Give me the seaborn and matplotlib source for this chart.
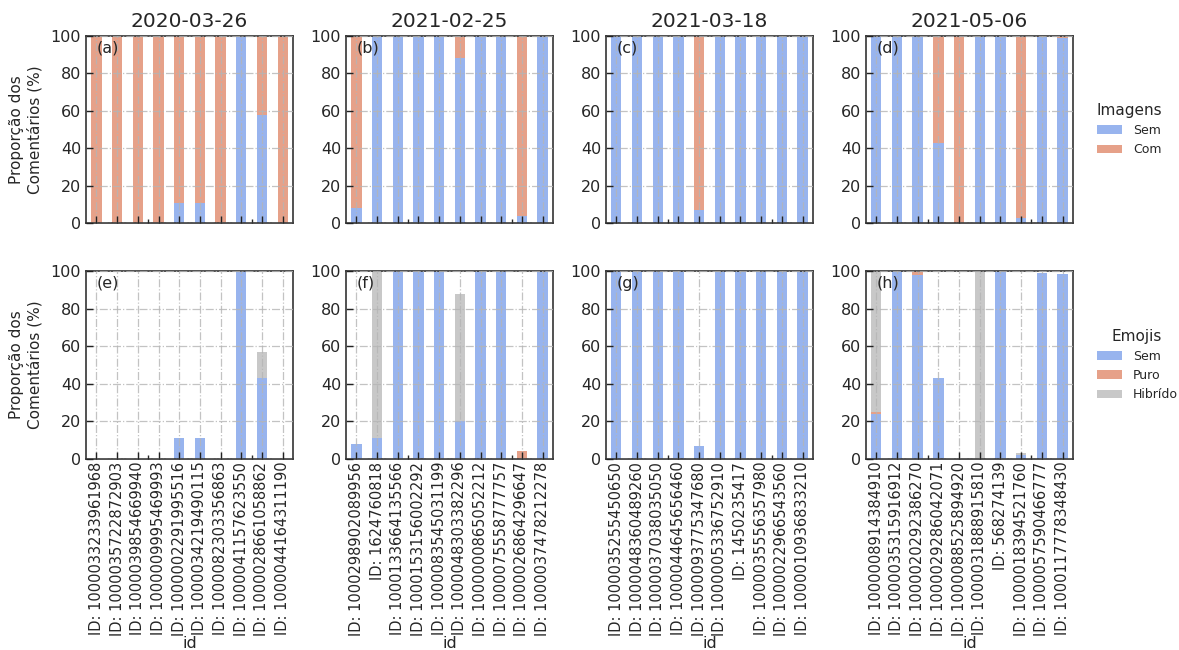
import pandas as pd
import matplotlib
matplotlib.use("Agg")
import matplotlib.pyplot as plt
import seaborn as sns

# datas das coletas
datas = ['2020-03-26', '2021-02-25', '2021-03-18', '2021-05-06']

ids_2020_03_26 = ['1000033233961968', '1000035722872903', '1000039854669940', '1000009995469993',
                  '1000002291995516', '1000034219490115', '1000082303356863', '1000041157623550',
                  '1000028661058862', '1000044164311190']
ids_2021_02_25 = ['1000298902089956', '1624760818', '1000133664135566', '1000153156002292',
                  '1000083545031199', '1000048303382296', '1000000865052212', '1000075558777757',
                  '1000026864296647', '1000037478212278']
ids_2021_03_18 = ['1000035255450650', '1000048360489260', '1000037038035050', '1000044645656460',
                  '1000093775347680', '1000005336752910', '1450235417', '1000035556357980',
                  '1000022966543560', '1000010936833210']
ids_2021_05_06 = ['1000008914384910', '1000035315916912', '1000020292386270', '1000029286042071',
                  '1000088525894920', '1000031888915810', '568274139', '1000018394521760',
                  '1000057590466777', '1000117778348430']

# Imagens: % de comentarios sem imagem (o resto = com imagem)
img_sem_a = [0, 0, 0, 0, 11, 11, 0, 100, 58, 0]
img_sem_b = [8, 100, 100, 100, 100, 88, 100, 100, 4, 100]
img_sem_c = [100, 100, 100, 100, 7, 100, 100, 100, 100, 100]
img_sem_d = [100, 100, 100, 43, 0, 100, 100, 3, 99.5, 98.8]

# Emojis: sem / puro / hibrido
emo_sem_e = [0, 0, 0, 0, 11, 11, 0, 100, 43, 0]
emo_puro_e = [0, 0, 0, 0, 0, 0, 0, 0, 0, 0]
emo_hib_e = [0, 0, 0, 0, 0, 0, 0, 0, 14, 0]

emo_sem_f = [8, 11, 100, 100, 100, 20, 100, 100, 0, 100]
emo_puro_f = [0, 0, 0, 0, 0, 0, 0, 0, 4, 0]
emo_hib_f = [0, 89, 0, 0, 0, 68, 0, 0, 0, 0]

emo_sem_g = [100, 100, 100, 100, 7, 100, 100, 100, 100, 100]
emo_puro_g = [0, 0, 0, 0, 0, 0, 0, 0, 0, 0]
emo_hib_g = [0, 0, 0, 0, 0, 0, 0, 0, 0, 0]

emo_sem_h = [24, 100, 98, 43, 0, 0, 100, 2, 99, 98.8]
emo_puro_h = [1, 0, 2, 0, 0, 0, 0, 0, 0, 0]
emo_hib_h = [75, 0, 0, 0, 0, 100, 0, 1, 0, 0]

lista_ids = [ids_2020_03_26, ids_2021_02_25, ids_2021_03_18, ids_2021_05_06]
lista_img = [img_sem_a, img_sem_b, img_sem_c, img_sem_d]
lista_emo = [(emo_sem_e, emo_puro_e, emo_hib_e), (emo_sem_f, emo_puro_f, emo_hib_f),
             (emo_sem_g, emo_puro_g, emo_hib_g), (emo_sem_h, emo_puro_h, emo_hib_h)]
letras = ['(a)', '(b)', '(c)', '(d)', '(e)', '(f)', '(g)', '(h)']

cor_sem = '#98b4ee'
cor_com = '#e6a189'
cor_hib = '#c8c8c8'

sns.set_theme(style="white")
plt.rcParams['font.family'] = ['DejaVu Sans']

fig, axes = plt.subplots(2, 4, figsize=(11.79, 6.5), dpi=100)
fig.subplots_adjust(left=0.073, right=0.910, top=0.945, bottom=0.294, wspace=0.256, hspace=0.255)

barra = dict(width=0.5, saturation=1, linewidth=0, edgecolor='none')


def estilo(ax, letra):
    ax.set_ylim(0, 100)
    ax.set_xlim(-0.5, 9.5)
    ax.set_yticks([0, 20, 40, 60, 80, 100])
    ax.grid(True, linestyle='-.', color='#b5b5b5', linewidth=0.9, alpha=0.8)
    ax.set_axisbelow(False)
    ax.tick_params(axis='both', direction='in', length=5, width=1, labelsize=11.5,
                   color='#222222', bottom=True, left=True)
    ax.set_xticks([2.5, 7.5], minor=True)
    ax.tick_params(axis='x', which='minor', direction='in', length=3, width=1, bottom=True)
    for sp in ax.spines.values():
        sp.set_color('#333333')
        sp.set_linewidth(1.2)
    ax.text(0.05, 0.935, letra, transform=ax.transAxes, fontsize=11.5, va='center', ha='left')


for j in range(4):
    rotulos = ['ID: ' + i for i in lista_ids[j]]

    # linha de cima: imagens
    ax = axes[0, j]
    df = pd.DataFrame({'id': rotulos, 'Sem': lista_img[j]})
    df['Com'] = 100 - df['Sem']
    df['total'] = df['Sem'] + df['Com']
    sns.barplot(data=df, x='id', y='total', order=rotulos, color=cor_com, ax=ax, label='Com', **barra)
    sns.barplot(data=df, x='id', y='Sem', order=rotulos, color=cor_sem, ax=ax, label='Sem', **barra)
    estilo(ax, letras[j])
    ax.set_title(datas[j], fontsize=14.5)
    ax.set_xlabel('')
    ax.set_ylabel('')
    ax.set_xticks(range(len(rotulos)))
    ax.set_xticklabels([])

    # linha de baixo: emojis
    ax = axes[1, j]
    sem, puro, hib = lista_emo[j]
    df = pd.DataFrame({'id': rotulos, 'Sem': sem, 'Puro': puro, 'Hib': hib})
    df['t2'] = df['Sem'] + df['Puro']
    df['t3'] = df['t2'] + df['Hib']
    sns.barplot(data=df, x='id', y='t3', order=rotulos, color=cor_hib, ax=ax, label='Hibrído', **barra)
    sns.barplot(data=df, x='id', y='t2', order=rotulos, color=cor_com, ax=ax, label='Puro', **barra)
    sns.barplot(data=df, x='id', y='Sem', order=rotulos, color=cor_sem, ax=ax, label='Sem', **barra)
    estilo(ax, letras[j + 4])
    ax.set_ylabel('')
    ax.set_xlabel('id', fontsize=11.5, labelpad=0)
    ax.set_xticks(range(len(rotulos)))
    ax.set_xticklabels(rotulos, rotation=90, fontsize=10.5)
    ax.tick_params(axis='x', pad=2)

for i in range(2):
    axes[i, 0].set_ylabel('Proporção dos\nComentários (%)', fontsize=11, labelpad=6)

# legendas na direita
h, l = axes[0, 3].get_legend_handles_labels()
ordem = [l.index('Sem'), l.index('Com')]
axes[0, 3].legend([h[k] for k in ordem], [l[k] for k in ordem], title='Imagens',
                  loc='center left', bbox_to_anchor=(1.06, 0.5), frameon=False,
                  fontsize=9, title_fontsize=11, handlelength=2.0, handletextpad=0.9)
h, l = axes[1, 3].get_legend_handles_labels()
ordem = [l.index('Sem'), l.index('Puro'), l.index('Hibrído')]
axes[1, 3].legend([h[k] for k in ordem], [l[k] for k in ordem], title='Emojis',
                  loc='center left', bbox_to_anchor=(1.06, 0.5), frameon=False,
                  fontsize=9, title_fontsize=11, handlelength=2.0, handletextpad=0.9)
for j in range(3):
    for i in range(2):
        leg = axes[i, j].get_legend()
        if leg is not None:
            leg.remove()

fig.savefig('out.png', dpi=100)
plt.close(fig)
